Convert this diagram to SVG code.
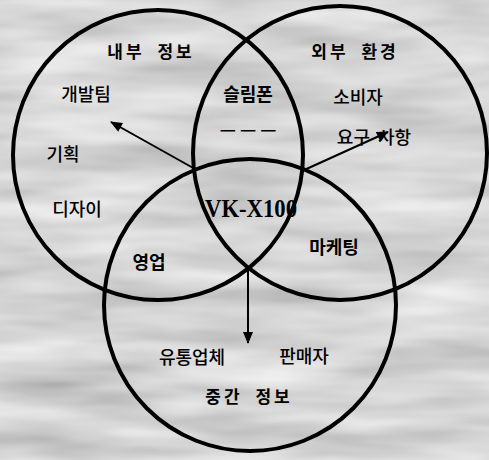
<svg xmlns="http://www.w3.org/2000/svg" width="489" height="460" viewBox="0 0 489 460">
  <defs>
    <filter id="tex" x="0" y="0" width="100%" height="100%" filterUnits="userSpaceOnUse">
      <feTurbulence type="fractalNoise" baseFrequency="0.006 0.035" numOctaves="3" seed="7"/>
      <feColorMatrix type="matrix" values="0.6 0 0 0 0.37  0.6 0 0 0 0.37  0.6 0 0 0 0.37  0 0 0 0 1"/>
    </filter>
    <marker id="arrow" viewBox="0 0 12 10" refX="11" refY="5" markerWidth="13" markerHeight="10" markerUnits="userSpaceOnUse" orient="auto">
      <path d="M0,0 L12,5 L0,10 Z" fill="#000"/>
    </marker>
    <style>
      .ring { fill: none; stroke: #000; stroke-width: 4; }
      .conn { stroke: #000; stroke-width: 2; fill: none; marker-end: url(#arrow); }
      text { font-family: "Noto Sans CJK KR", "Noto Sans", sans-serif; fill: #000; text-anchor: middle; }
      .title { font-size: 17px; font-weight: 700; letter-spacing: 3px; word-spacing: 6px; }
      .item { font-size: 18px; font-weight: 500; }
      .bold { font-size: 18px; font-weight: 700; }
      .model { font-family: "Liberation Serif", "DejaVu Serif", serif; font-size: 25px; font-weight: 700; }
    </style>
  </defs>

  <rect x="0" y="0" width="489" height="460" fill="#b0b0b0"/>
  <rect x="0" y="0" width="489" height="460" filter="url(#tex)"/>

  <g id="circle-internal">
    <circle class="ring" cx="158" cy="155" r="145"/>
    <text class="title" x="151" y="58">내부 정보</text>
    <text class="item" x="86" y="101">개발팀</text>
    <text class="item" x="63" y="161">기획</text>
    <text class="item" x="77" y="216">디자이</text>
  </g>

  <g id="circle-external">
    <circle class="ring" cx="340" cy="153" r="147"/>
    <text class="title" x="355" y="58">외부 환경</text>
    <text class="item" x="358" y="104">소비자</text>
    <text class="item" x="374" y="144" word-spacing="4">요구 사항</text>
  </g>

  <g id="circle-middle">
    <circle class="ring" cx="250" cy="305" r="146"/>
    <text class="item" x="192" y="364">유통업체</text>
    <text class="item" x="304" y="363">판매자</text>
    <text class="title" x="249" y="403">중간 정보</text>
  </g>

  <g id="overlap-top">
    <text class="bold" x="248" y="101">슬림폰</text>
    <text class="item" x="248" y="136" font-size="16">— — —</text>
  </g>

  <g id="overlap-left">
    <text class="bold" x="149" y="269">영업</text>
  </g>

  <g id="overlap-right">
    <text class="bold" x="334" y="254">마케팅</text>
  </g>

  <g id="center">
    <text class="model" x="251" y="217" textLength="92" lengthAdjust="spacingAndGlyphs">VK-X100</text>
  </g>

  <g id="connectors">
    <line class="conn" x1="195" y1="169" x2="111" y2="122"/>
    <line class="conn" x1="302" y1="171" x2="388" y2="132"/>
    <line class="conn" x1="248" y1="267" x2="248" y2="343"/>
  </g>
</svg>
